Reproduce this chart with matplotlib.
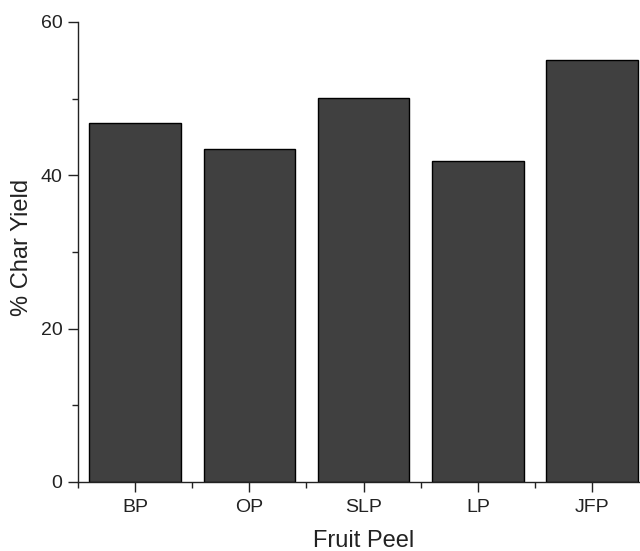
import matplotlib
matplotlib.use("Agg")
import matplotlib.pyplot as plt
from matplotlib.ticker import MultipleLocator, FixedLocator

categories = ["BP", "OP", "SLP", "LP", "JFP"]
char_yield = [46.8, 43.4, 50.1, 41.9, 55.0]

plt.rcParams['font.family'] = ['Liberation Sans', 'DejaVu Sans']

fig = plt.figure(figsize=(6.4, 5.51), dpi=100)
ax = fig.add_axes([77.8/640, 69/551, 571.5/640, 460/551])

x = list(range(len(categories)))
ax.bar(x, char_yield, width=0.8, color="#404040", edgecolor="black", linewidth=1.0)

ax.set_xlim(-0.5, len(categories) - 0.5)
ax.set_ylim(0, 60)
ax.set_xticks(x)
ax.set_xticklabels(categories)
ax.xaxis.set_minor_locator(FixedLocator([i - 0.5 for i in range(len(categories) + 1)]))
ax.yaxis.set_major_locator(MultipleLocator(20))
ax.yaxis.set_minor_locator(MultipleLocator(10))

for s in ["top", "right"]:
    ax.spines[s].set_visible(False)
for s in ["left", "bottom"]:
    ax.spines[s].set_linewidth(1.0)
    ax.spines[s].set_color("#222222")

ax.tick_params(which="major", length=7, width=1.0, labelsize=14, color="#222222", labelcolor="#222222")
ax.tick_params(which="minor", length=4, width=1.0, color="#222222")
ax.tick_params(axis="x", pad=5)
ax.tick_params(axis="y", pad=4)

ax.set_xlabel("Fruit Peel", fontsize=17, color="#222222", labelpad=10)
ax.set_ylabel("% Char Yield", fontsize=17, color="#222222")
ax.yaxis.set_label_coords(-0.078, 0.51)

fig.savefig("out.png", dpi=100)
